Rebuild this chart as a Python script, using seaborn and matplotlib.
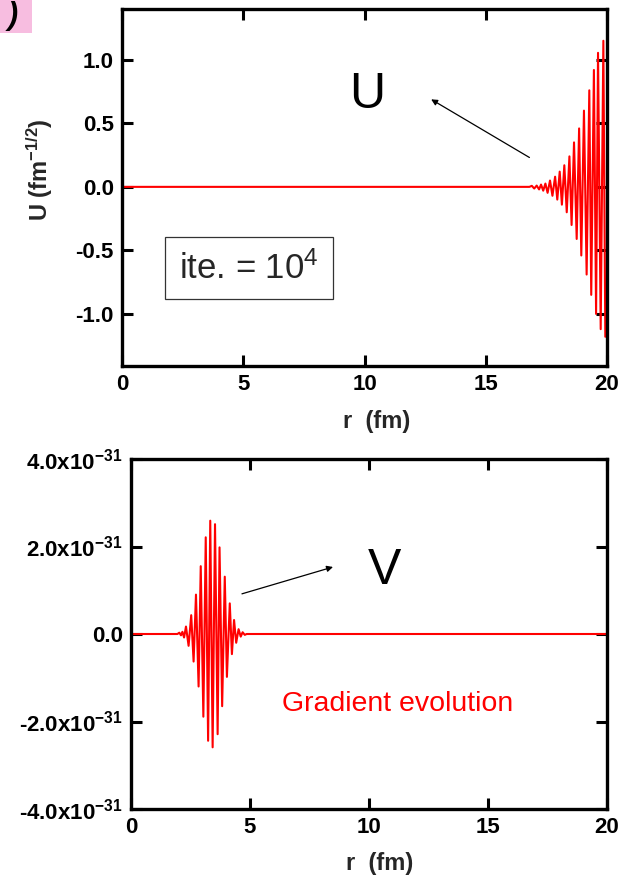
import numpy as np
import pandas as pd
import matplotlib
matplotlib.use("Agg")
import matplotlib.pyplot as plt
import seaborn as sns
from matplotlib.patches import Rectangle

# ---- data ----
u_r = [0.0, 16.80, 16.90, 17.00, 17.10, 17.20, 17.28, 17.37, 17.46, 17.55, 17.65,
       17.75, 17.86, 17.95, 18.05, 18.14, 18.24, 18.34, 18.45, 18.54, 18.64,
       18.75, 18.85, 18.94, 19.05, 19.16, 19.27, 19.35, 19.46, 19.55, 19.63,
       19.74, 19.85, 19.93]
u_vals = [0.0, 0.0, 0.008, -0.013, 0.010, -0.020, 0.018, -0.030, 0.026, -0.047, 0.050,
          -0.070, 0.080, -0.100, 0.120, -0.140, 0.170, -0.200, 0.240, -0.300, 0.350,
          -0.410, 0.460, -0.540, 0.600, -0.690, 0.760, -0.850, 0.920, -1.000, 1.055,
          -1.120, 1.150, -1.180]

v_r = [0.0, 1.95, 2.03, 2.10, 2.16, 2.23, 2.31, 2.42, 2.53, 2.63, 2.73, 2.84, 2.93,
       3.04, 3.14, 3.24, 3.33, 3.43, 3.53, 3.64, 3.72, 3.83, 3.94, 4.03, 4.15,
       4.24, 4.33, 4.42, 4.52, 4.61, 4.69, 4.78, 4.86, 20.0]
v_vals = [0.0, 0.0, 0.03, -0.03, 0.05, -0.08, 0.17, -0.27, 0.43, -0.63, 0.90, -1.20, 1.55,
          -1.89, 2.21, -2.44, 2.59, -2.59, 2.51, -2.29, 1.98, -1.65, 1.31, -0.98, 0.70,
          -0.46, 0.32, -0.20, 0.11, -0.06, 0.04, -0.02, 0.0, 0.0]  # units of 1e-31

x_ticks = [0, 5, 10, 15, 20]
u_ticks = [-1.0, -0.5, 0.0, 0.5, 1.0]
u_tick_labels = ["-1.0", "-0.5", "0.0", "0.5", "1.0"]
v_ticks = [-4e-31, -2e-31, 0.0, 2e-31, 4e-31]
v_tick_labels = [r"-4.0x10$^{\mathbf{-31}}$", r"-2.0x10$^{\mathbf{-31}}$", "0.0",
                 r"2.0x10$^{\mathbf{-31}}$", r"4.0x10$^{\mathbf{-31}}$"]

df_u = pd.DataFrame({"r": u_r, "U": u_vals})
df_v = pd.DataFrame({"r": v_r, "V": np.array(v_vals) * 1e-31})

# ---- style ----
sns.set_style("ticks")
plt.rcParams["font.family"] = ["Liberation Sans", "DejaVu Sans"]
plt.rcParams["mathtext.fontset"] = "custom"
plt.rcParams["mathtext.rm"] = "Liberation Sans"
plt.rcParams["mathtext.bf"] = "Liberation Sans:bold"
plt.rcParams["mathtext.it"] = "Liberation Sans:italic"

W, H = 621, 875
fig = plt.figure(figsize=(W / 100, H / 100), dpi=100)

def frac_axes(l, t, r, b):
    return fig.add_axes([l / W, 1 - b / H, (r - l) / W, (b - t) / H])

ax1 = frac_axes(122, 9, 607, 366)
ax2 = frac_axes(131, 459, 607, 809)

sns.lineplot(data=df_u, x="r", y="U", ax=ax1, color="red", lw=1.5,
             estimator=None, sort=False)
sns.lineplot(data=df_v, x="r", y="V", ax=ax2, color="red", lw=1.5,
             estimator=None, sort=False)

def style_axes(ax):
    for s in ax.spines.values():
        s.set_visible(True)
        s.set_linewidth(2.4)
        s.set_color("black")
    ax.tick_params(direction="in", length=8, width=2.2, top=True, right=True,
                   labelsize=16, pad=6, colors="black")
    ax.set_xlim(0, 20)
    ax.set_xticks(x_ticks)
    ax.set_xticklabels([str(t) for t in x_ticks], fontweight="bold", fontsize=16)
    ax.set_xlabel("r  (fm)", fontsize=17, fontweight="bold")

style_axes(ax1)
ax1.set_ylim(-1.41, 1.40)
ax1.set_yticks(u_ticks)
ax1.set_yticklabels(u_tick_labels, fontweight="bold", fontsize=16)
ax1.set_ylabel(r"U (fm$^{\mathbf{-1/2}}$)", fontsize=17, fontweight="bold")
ax1.yaxis.set_label_coords(-0.138, 0.549)
ax1.xaxis.set_label_coords(0.526, -0.123)

style_axes(ax2)
ax2.set_ylim(-4e-31, 4e-31)
ax2.set_yticks(v_ticks)
ax2.set_yticklabels(v_tick_labels, fontweight="bold", fontsize=16)
ax2.set_ylabel("")
ax2.xaxis.set_label_coords(0.523, -0.123)

# annotations top
ax1.text(10.1, 0.72, "U", fontsize=36, ha="center", va="center", color="black")
ax1.annotate("", xy=(12.65, 0.70), xytext=(16.9, 0.22),
             arrowprops=dict(arrowstyle="-|>", color="black", lw=0.9,
                             mutation_scale=9))
ax1.text(2.35, -0.64, r"ite. = 10$^{\mathrm{4}}$", fontsize=25, ha="left", va="center",
         bbox=dict(boxstyle="square,pad=0.4", fc="white", ec="#333333", lw=0.9))

# annotations bottom
ax2.text(10.65, 1.45e-31, "V", fontsize=36, ha="center", va="center", color="black")
ax2.annotate("", xy=(8.6, 1.55e-31), xytext=(4.55, 0.9e-31),
             arrowprops=dict(arrowstyle="-|>", color="black", lw=0.9,
                             mutation_scale=9))
ax2.text(11.2, -1.6e-31, "Gradient evolution", fontsize=20.5, color="red",
         ha="center", va="center")

# panel label fragment in the top-left corner
fig.patches.append(Rectangle((0, 1 - 33 / H), 32 / W, 33 / H, transform=fig.transFigure,
                             facecolor="#f7bde0", edgecolor="none", zorder=0))
fig.text(13 / W, 1 - 1 / H, ")", fontsize=22, fontweight="bold", fontstyle="italic",
         ha="center", va="top", color="black")

fig.savefig("out.png", dpi=100)
